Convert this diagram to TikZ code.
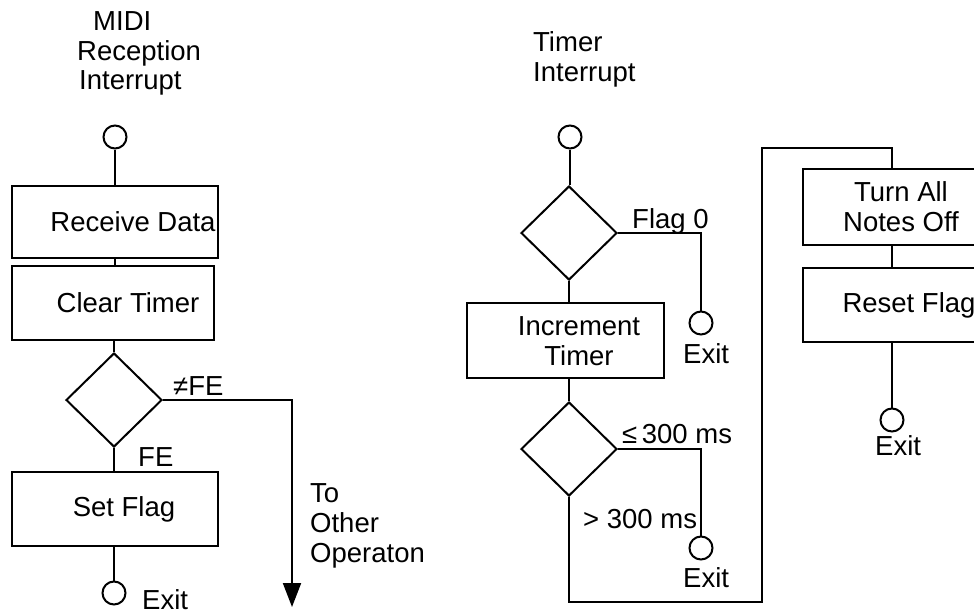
\documentclass[tikz,border=0pt]{standalone}
\usepackage{fontspec}
\setmainfont{Liberation Sans}
\usetikzlibrary{arrows.meta,shapes.geometric}
\definecolor{flowInk}{HTML}{000000}

\begin{document}
\begin{tikzpicture}[x=1pt,y=-1pt,line cap=butt,line join=miter,font=\fontsize{27.5}{30}\selectfont]
\path[use as bounding box,clip] (0,0) rectangle (974,613);
\path[fill=white] (0,0) rectangle (974,613);
\tikzset{flow/.style={draw=flowInk,line width=2pt},stepbox/.style={draw=flowInk,line width=2pt,inner sep=0pt},test/.style={draw=flowInk,diamond,line width=2pt,inner sep=0pt,minimum width=96pt,minimum height=94pt},term/.style={draw=flowInk,circle,line width=2pt,inner sep=0pt,minimum size=23pt},lbl/.style={anchor=base west,inner sep=0pt,text=flowInk,align=left},txt/.style={inner sep=0pt,text=flowInk,align=center}}
% MIDI reception interrupt
\node[lbl] (midiA) at (93,30) {MIDI};
\node[lbl] (midiB) at (77,60) {Reception};
\node[lbl] (midiC) at (79,89) {Interrupt};
\node[term] (start1) at (115,137) {};
\node[stepbox,minimum width=206pt,minimum height=72pt] (recv) at (115,222) {};
\node[txt] (recvTxt) at ([xshift=18pt]recv.center) {Receive Data};
\node[stepbox,minimum width=202pt,minimum height=74pt] (clear) at (113,303) {};
\node[txt] (clearTxt) at ([xshift=15pt]clear.center) {Clear Timer};
\node[test] (test1) at (114,400) {};
\node[stepbox,minimum width=206pt,minimum height=74pt] (setflag) at (115,509) {};
\node[txt] (setflagTxt) at ([xshift=9pt]setflag.center) {Set Flag};
\node[term] (exit1) at (114,593) {};
\node[lbl] (exit1Txt) at (142,609) {Exit};
\coordinate (tipL) at (292,607);
\draw[flow] (start1.south) -- (start1.south |- recv.north);
\draw[flow] (recv.south) -- (recv.south |- clear.north);
\draw[flow] (test1.north |- clear.south) -- (test1.north);
\draw[flow] (test1.south) -- (test1.south |- setflag.north);
\draw[flow] (exit1.north |- setflag.south) -- (exit1.north);
\draw[flow,-{Triangle[length=24pt,width=18pt]}] (test1.east) -| (tipL);
\node[lbl] (neFE) at (173,395) {≠FE};
\node[lbl] (isFE) at (138,466) {FE};
\node[lbl] (toOther) at (310,562) {To\\Other\\Operaton};
% timer interrupt
\node[lbl] (timerTxt) at (533,81) {Timer\\Interrupt};
\node[term] (start2) at (570,137) {};
\node[test] (test2) at (569,233) {};
\node[term] (exitA) at (701,323) {};
\node[lbl] (exitATxt) at (683,363) {Exit};
\node[lbl] (flag0) at (632,228) {Flag 0};
\node[stepbox,minimum width=197pt,minimum height=75pt] (incr) at (565,340) {};
\node[txt] (incrTxt) at ([xshift=14pt,yshift=-1pt]incr.center) {Increment\\Timer};
\node[test] (test3) at (569,449) {};
\node[term] (exitB) at (701,548) {};
\node[lbl] (exitBTxt) at (683,587) {Exit};
\node[lbl] (le300) at (622,443) {≤\,300 ms};
\node[lbl] (gt300) at (583,528) {> 300 ms};
\draw[flow] (start2.south) -- (start2.south |- test2.north);
\draw[flow] (test2.south) -- (test2.south |- incr.north);
\draw[flow] (test3.north |- incr.south) -- (test3.north);
\draw[flow] (test2.east) -| (exitA.north);
\draw[flow] (test3.east) -| (exitB.north);
% reset branch
\coordinate (loopB) at (762,602);
\coordinate (colR) at (892,148);
\node[stepbox,minimum width=194pt,minimum height=76pt] (notes) at (900,207) {};
\node[txt] (notesTxt) at ([xshift=1pt]notes.center) {Turn All\\Notes Off};
\node[stepbox,minimum width=194pt,minimum height=74pt] (reset) at (900,305) {};
\node[txt] (resetTxt) at ([xshift=9pt]reset.center) {Reset Flag};
\node[term] (exitC) at (892,420) {};
\node[lbl] (exitCTxt) at (875,455) {Exit};
\draw[flow] (test3.south) |- (loopB) |- (colR) -- (colR |- notes.north);
\draw[flow] (colR |- notes.south) -- (colR |- reset.north);
\draw[flow] (colR |- reset.south) -- (exitC.north);
\end{tikzpicture}
\end{document}
